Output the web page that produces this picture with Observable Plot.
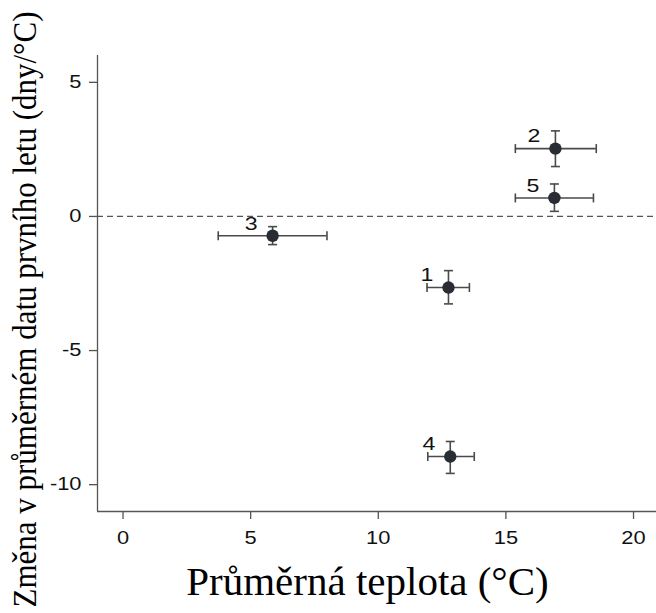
<!DOCTYPE html>
<html>
<head>
<meta charset="utf-8">
<script src="https://cdn.jsdelivr.net/npm/d3@7"></script>
<script src="https://cdn.jsdelivr.net/npm/@observablehq/plot@0.6"></script>
<style>
  html, body { margin: 0; padding: 0; background: #fff; }
  #chart svg { display: block; }
</style>
</head>
<body>
<div id="chart"></div>
<script>
// Data
const ids      = [1, 2, 3, 4, 5];
const temp     = [12.75, 16.94, 5.86, 12.82, 16.90];
const change   = [-2.65, 2.53, -0.72, -8.95, 0.69];
const tempLo   = [11.91, 15.37, 3.73, 11.94, 15.37];
const tempHi   = [13.57, 18.54, 7.99, 13.76, 18.43];
const changeLo = [-3.26, 1.86, -1.05, -9.58, 0.19];
const changeHi = [-2.02, 3.19, -0.38, -8.39, 1.21];
const xTicks = [0, 5, 10, 15, 20];
const yTicks = [-10, -5, 0, 5];
const xTitle = "Průměrná teplota (°C)";
const yTitle = "Změna v průměrném datu prvního letu (dny/°C)";

const data = ids.map((id, i) => ({
  id: String(id), x: temp[i], y: change[i],
  xlo: tempLo[i], xhi: tempHi[i], ylo: changeLo[i], yhi: changeHi[i]
}));

const capH = {draw(ctx, size) { const r = Math.sqrt(size / Math.PI); ctx.moveTo(-r, 0); ctx.lineTo(r, 0); }};
const capV = {draw(ctx, size) { const r = Math.sqrt(size / Math.PI); ctx.moveTo(0, -r); ctx.lineTo(0, r); }};

const sans = "'Liberation Sans', Arial, sans-serif";
const serif = "'Liberation Serif', 'Times New Roman', serif";
const barColor = "#4a4a4a";
const axisColor = "#555";
const fmt = d => String(d);

const chart = Plot.plot({
  width: 656,
  height: 613,
  marginLeft: 97,
  marginRight: 0,
  marginTop: 55,
  marginBottom: 102,
  style: {background: "#fff", fontFamily: sans},
  x: {domain: [-1, 20.9]},
  y: {domain: [-11, 6]},
  marks: [
    Plot.ruleY([0], {stroke: axisColor, strokeWidth: 1.3, strokeDasharray: "6,4"}),
    Plot.axisX({ticks: xTicks, tickFormat: fmt, tickSize: 8, tickPadding: 12, fontSize: 17.5, fontFamily: sans,
      label: null, stroke: axisColor, strokeWidth: 1.3, fill: "#111"}),
    Plot.axisY({ticks: yTicks, tickFormat: fmt, tickSize: 8, tickPadding: 8, fontSize: 17.5, fontFamily: sans,
      label: null, stroke: axisColor, strokeWidth: 1.3, fill: "#111"}),
    Plot.ruleX([-1], {stroke: axisColor, strokeWidth: 1.3}),
    Plot.ruleY([-11], {stroke: axisColor, strokeWidth: 1.3}),
    // error bars
    Plot.ruleY(data, {y: "y", x1: "xlo", x2: "xhi", stroke: barColor, strokeWidth: 1.6}),
    Plot.ruleX(data, {x: "x", y1: "ylo", y2: "yhi", stroke: barColor, strokeWidth: 1.6}),
    Plot.dot(data, {x: "xlo", y: "y", symbol: capV, r: 4.5, stroke: barColor, strokeWidth: 1.6, fill: "none"}),
    Plot.dot(data, {x: "xhi", y: "y", symbol: capV, r: 4.5, stroke: barColor, strokeWidth: 1.6, fill: "none"}),
    Plot.dot(data, {x: "x", y: "ylo", symbol: capH, r: 4.5, stroke: barColor, strokeWidth: 1.6, fill: "none"}),
    Plot.dot(data, {x: "x", y: "yhi", symbol: capH, r: 4.5, stroke: barColor, strokeWidth: 1.6, fill: "none"}),
    Plot.dot(data, {x: "x", y: "y", r: 6.2, fill: "#2a2c33", stroke: "none"}),
    Plot.text(data, {x: "x", y: "y", text: "id", dx: -15, dy: -12, textAnchor: "end",
      fontSize: 18.5, fontFamily: sans, fill: "#111"}),
    // axis titles
    Plot.text([xTitle], {frameAnchor: "bottom", dx: -9.5, dy: 83, lineAnchor: "bottom",
      textAnchor: "middle", fontSize: 41, fontFamily: serif, fill: "#000"}),
    Plot.text([yTitle], {frameAnchor: "left", rotate: -90, dx: -62, dy: 26, lineAnchor: "bottom",
      textAnchor: "middle", fontSize: 31, fontFamily: serif, fill: "#000"})
  ]
});

// The reference's lettering is somewhat wide: stretch glyph runs in screen x
function stretchFor(txt) {
  if (txt === xTitle) return 1;
  if (txt === yTitle) return 1.12;
  return 1.25;
}
d3.select(chart).selectAll("text").each(function() {
  const s = stretchFor(this.textContent);
  if (s === 1) return;
  const t = this.getAttribute("transform") || "";
  const m = t.match(/^\s*translate\(([^)]*)\)(.*)$/);
  if (m) {
    this.setAttribute("transform", `translate(${m[1]}) scale(${s},1)${m[2]}`);
  } else {
    const x = +(this.getAttribute("x") || 0), y = +(this.getAttribute("y") || 0);
    this.removeAttribute("x"); this.removeAttribute("y");
    this.setAttribute("transform", `translate(${x},${y}) scale(${s},1) ${t}`);
  }
});

document.getElementById("chart").appendChild(chart);
</script>
</body>
</html>
